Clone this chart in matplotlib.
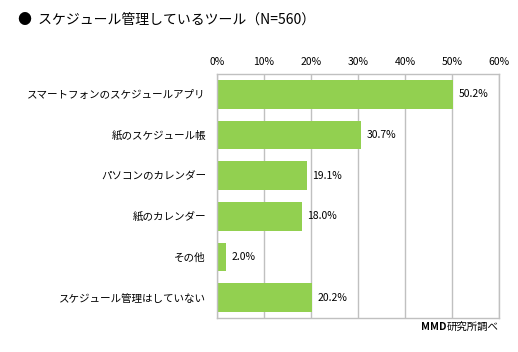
import matplotlib
matplotlib.use("Agg")
import matplotlib.pyplot as plt

plt.rcParams['font.family'] = ['Noto Sans CJK JP', 'DejaVu Sans']

categories = ['スマートフォンのスケジュールアプリ', '紙のスケジュール帳', 'パソコンのカレンダー',
              '紙のカレンダー', 'その他', 'スケジュール管理はしていない']
values = [50.2, 30.7, 19.1, 18.0, 2.0, 20.2]
ticks = [0, 10, 20, 30, 40, 50, 60]

grid_color = '#c0c0c0'
bar_color = '#92d050'

fig = plt.figure(figsize=(5.18, 3.52), dpi=100)
ax = fig.add_axes([217 / 518, 1 - 318 / 352, 282 / 518, 244 / 352])

y = list(range(len(categories)))
ax.barh(y, values, height=0.7, color=bar_color, zorder=2)
for yi, v in zip(y, values):
    ax.text(v + 1.2, yi, f'{v:.1f}%', va='center', ha='left', fontsize=7.5)

ax.set_xlim(0, 60)
ax.set_ylim(len(categories) - 0.5, -0.5)
ax.set_xticks(ticks)
ax.set_xticklabels([f'{t}%' for t in ticks], fontsize=7.5)
ax.xaxis.tick_top()
ax.tick_params(axis='x', length=0, pad=5)
ax.set_yticks(y)
ax.set_yticklabels(categories, fontsize=7.6)
ax.tick_params(axis='y', length=0, pad=8)
ax.grid(axis='x', color=grid_color, linewidth=1, zorder=1)
for s in ax.spines.values():
    s.set_color(grid_color)
    s.set_linewidth(1)

fig.text(18 / 518, 1 - 20 / 352, '●  スケジュール管理しているツール（N=560）',
         fontsize=10, va='center', ha='left')
fig.text(499 / 518, 1 - 327 / 352, '研究所調べ', fontsize=7.5, va='center', ha='right')
fig.text(447 / 518, 1 - 327 / 352, 'MMD', fontsize=7.5, fontweight='bold', va='center', ha='right')

fig.savefig('out.png', dpi=100)
